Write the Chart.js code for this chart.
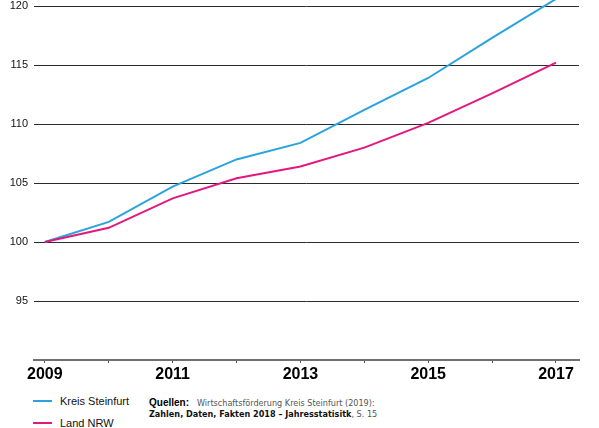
<!DOCTYPE html>
<html lang="de">
<head>
<meta charset="utf-8">
<title>Kreis Steinfurt / Land NRW</title>
<script src="https://cdn.jsdelivr.net/npm/chart.js@4/dist/chart.umd.min.js"></script>
<style>
  html, body { margin: 0; padding: 0; background: #fff; }
  body { width: 599px; height: 428px; overflow: hidden; position: relative; }
  #wrap { position: absolute; left: 0; top: 0; width: 599px; height: 392px; }
  .leg { position: absolute; left: 33px; font: 11px "Liberation Sans", Arial, sans-serif; color: #111; white-space: nowrap; }
  .leg i { display: inline-block; width: 19px; height: 2px; vertical-align: middle; margin-right: 8px; position: relative; top: -1px; }
  .src { position: absolute; left: 149px; font: 9px "Liberation Sans Narrow", "DejaVu Sans Condensed", sans-serif; white-space: nowrap; }
  .src b { font: bold 10px "Liberation Sans", Arial, sans-serif; color: #000; margin-right: 8px; }
  .grey { color: #555; }
  .dark { color: #111; font-weight: bold; }
</style>
</head>
<body>
<div id="wrap"><canvas id="c" width="599" height="392"></canvas></div>

<div class="leg" style="top:395px"><i style="background:#2aa3dd"></i>Kreis Steinfurt</div>
<div class="leg" style="top:417px"><i style="background:#e3177d"></i>Land NRW</div>

<div class="src" style="top:397px"><b>Quellen:</b><span class="grey">Wirtschaftsförderung Kreis Steinfurt (2019):</span></div>
<div class="src" style="top:409px"><span class="dark">Zahlen, Daten, Fakten 2018 – Jahresstatisitk</span><span class="grey">, S. 15</span></div>

<script>
  // Index 2009 = 100
  const years = [2009, 2010, 2011, 2012, 2013, 2014, 2015, 2016, 2017];
  const steinfurt = [100, 101.7, 104.7, 107.0, 108.4, 111.2, 113.9, 117.3, 120.6];
  const nrw = [100, 101.2, 103.7, 105.4, 106.4, 108.0, 110.1, 112.6, 115.2];
  const yTicks = [95, 100, 105, 110, 115, 120];

  const BLUE = "#2aa3dd";
  const PINK = "#e3177d";

  const pts = (vals) => years.map((y, i) => ({ x: y, y: vals[i] }));

  const line = (label, data, color) => ({
    label, data, borderColor: color, backgroundColor: color,
    borderWidth: 2, pointRadius: 0, tension: 0, fill: false,
  });

  new Chart(document.getElementById("c"), {
    type: "line",
    data: {
      datasets: [
        line("Land NRW", pts(nrw), PINK),
        line("Kreis Steinfurt", pts(steinfurt), BLUE),
      ],
    },
    options: {
      responsive: false,
      animation: false,
      layout: { padding: { top: 0, right: 20, left: 0, bottom: 0 } },
      plugins: { legend: { display: false }, tooltip: { enabled: false } },
      scales: {
        x: {
          type: "linear",
          min: 2008.83,
          max: 2017.36,
          afterBuildTicks: (s) => { s.ticks = years.map((v) => ({ value: v })); },
          afterFit: (s) => { s.height = 32; s.paddingLeft = 0; s.paddingRight = 0; },
          grid: { drawOnChartArea: false, drawTicks: true, tickLength: 3, tickColor: "#555", tickWidth: 1 },
          border: { display: true, color: "#707070", width: 2 },
          ticks: {
            padding: 2,
            color: "#000",
            maxRotation: 0,
            autoSkip: false,
            font: { family: "'Liberation Sans', Arial, sans-serif", size: 16, weight: "bold" },
            callback: (v) => (v % 2 === 1 ? String(v) : ""),
          },
        },
        y: {
          min: 90,
          max: 120.51,
          afterBuildTicks: (s) => { s.ticks = yTicks.map((v) => ({ value: v })); },
          // the y labels never reach the chart edges, so no extra padding for them
          afterFit: (s) => { s.width = 34; s.paddingTop = 0; s.paddingBottom = 0; },
          grid: { color: "#2b2b2b", lineWidth: 1, drawTicks: false },
          border: { display: false },
          ticks: {
            padding: 6,
            color: "#111",
            font: { family: "'Liberation Sans', Arial, sans-serif", size: 11 },
          },
        },
      },
    },
  });
</script>
</body>
</html>
